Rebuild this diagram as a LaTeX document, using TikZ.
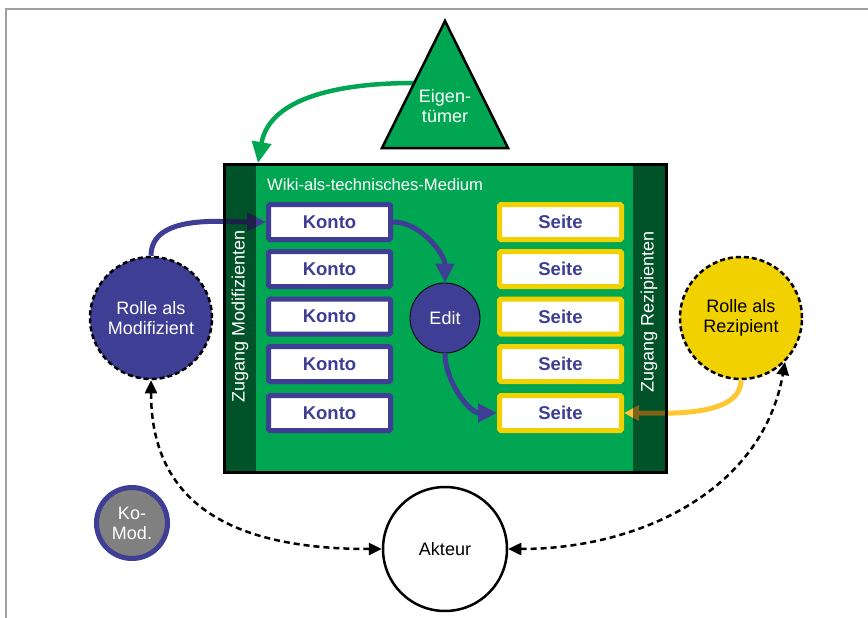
\documentclass[tikz,border=0pt]{standalone}
\usepackage{fontspec}
\setmainfont{Liberation Sans}
\usetikzlibrary{arrows.meta}

\definecolor{wikigreen}{HTML}{00A651}
\definecolor{rolleblue}{HTML}{3E3E95}
\definecolor{seitegelb}{HTML}{F2D100}
\definecolor{pfeilgelb}{HTML}{FFC832}
\definecolor{rahmengrau}{HTML}{A0A0A0}
\definecolor{komodgrau}{HTML}{808080}

\tikzset{
  txt/.style={font=\fontsize{18}{20}\selectfont, align=center},
  kontobox/.style={draw=rolleblue, line width=5pt, fill=white,
    minimum width=122pt, minimum height=35pt, inner sep=0pt,
    rounded corners=1.5pt, text=rolleblue,
    font=\fontsize{18.5}{20}\selectfont\bfseries},
  seitebox/.style={kontobox, draw=seitegelb},
  rolle/.style={circle, inner sep=0pt, minimum size=122pt, draw=black,
    dash pattern=on 5pt off 3pt, line width=2.5pt, txt},
  bluepfeil/.style={draw=rolleblue, line width=5pt,
    -{Triangle[length=19pt,width=18pt]}},
  gelbpfeil/.style={draw=pfeilgelb, line width=5pt,
    -{Triangle[length=15pt,width=15pt]}},
  gruenpfeil/.style={draw=wikigreen, line width=4.5pt,
    -{Triangle[length=21pt,width=19pt]}},
  bezug/.style={draw=black, line width=2.5pt, dash pattern=on 6pt off 4pt,
    {Triangle[length=13pt,width=12pt]}-{Triangle[length=13pt,width=12pt]}},
  streifen/.style={fill=black, opacity=0.5},
  streifentext/.style={rotate=90, text=white, font=\fontsize{18}{20}\selectfont}
}

\begin{document}
\begin{tikzpicture}[x=1pt,y=-1pt]
  \useasboundingbox (0,0) rectangle (868,618);

  % page frame (top and left edge only)
  \draw[rahmengrau, line width=2pt] (6,618) -- (6,9) -- (868,9);

  % the wiki as technical medium
  \fill[wikigreen] (224,164) rectangle (666,472);
  \node[anchor=west, inner sep=0pt, text=white,
        font=\fontsize{16.6}{18}\selectfont] (titel) at (267,185)
        {Wiki-als-technisches-Medium};

  % accounts
  \node[kontobox] (k1) at (329.5,222) {Konto};
  \node[kontobox] (k2) at (329.5,269) {Konto};
  \node[kontobox] (k3) at (329.5,316.5) {Konto};
  \node[kontobox] (k4) at (329.5,364) {Konto};
  \node[kontobox] (k5) at (329.5,413) {Konto};

  % pages
  \node[seitebox] (s1) at (560.5,222) {Seite};
  \node[seitebox] (s2) at (560.5,269) {Seite};
  \node[seitebox] (s3) at (560.5,316.5) {Seite};
  \node[seitebox] (s4) at (560.5,364) {Seite};
  \node[seitebox] (s5) at (560.5,413) {Seite};

  % edit
  \node[circle, fill=rolleblue, draw=black, line width=0.8pt,
        minimum size=70pt, inner sep=0pt, txt, text=white] (edit) at (445,318) {Edit};

  % roles
  \node[rolle, fill=rolleblue, text=white] (mod) at (151,318) {Rolle als\\Modifizient};
  \node[rolle, fill=seitegelb, text=black] (rez) at (741,318) {Rolle als\\Rezipient};

  % flows inside the medium
  \draw[bluepfeil] (mod.north) to[out=90, in=180, looseness=0.9] (k1.west);
  \draw[bluepfeil] (k1.east) to[out=0, in=90, looseness=0.9] (edit.north);
  \draw[bluepfeil] (edit.south) to[out=-90, in=180, looseness=0.9] (s5.west);
  \draw[gelbpfeil] (rez.south) to[out=-90, in=0, looseness=0.8] (s5.east);

  % access strips (darken whatever lies beneath)
  \fill[streifen] (224,164) rectangle (256,472);
  \fill[streifen] (633,164) rectangle (666,472);
  \node[streifentext] (zmod) at (240,316) {Zugang Modifizienten};
  \node[streifentext] (zrez) at (649,312) {Zugang Rezipienten};

  \draw[line width=3pt] (224,164) rectangle (666,472);

  % owner
  \coordinate (gstart) at (414,83);
  \coordinate (gend) at (258,163);
  \draw[gruenpfeil] (gstart) to[out=180, in=80] (gend);
  \draw[fill=wikigreen, line width=2.5pt, line join=miter]
    (445,21) -- (508,148) -- (382,148) -- cycle;
  \node[txt, text=white] (eigen) at (445,106) {Eigen-\\tümer};

  % co-modifier
  \node[circle, fill=komodgrau, draw=rolleblue, line width=5pt,
        minimum size=71pt, inner sep=0pt, txt, text=white] (komod) at (132,523) {Ko-\\Mod.};

  % actor
  \node[circle, fill=white, draw=black, line width=2.5pt,
        minimum size=124pt, inner sep=0pt, txt] (akteur) at (445,549) {Akteur};

  \draw[bezug] (akteur.west) to[out=180, in=-90, looseness=1.2] (mod.south);
  \draw[bezug] (akteur.east) to[out=0, in=-100, looseness=1.0] (rez.-45);
\end{tikzpicture}
\end{document}
